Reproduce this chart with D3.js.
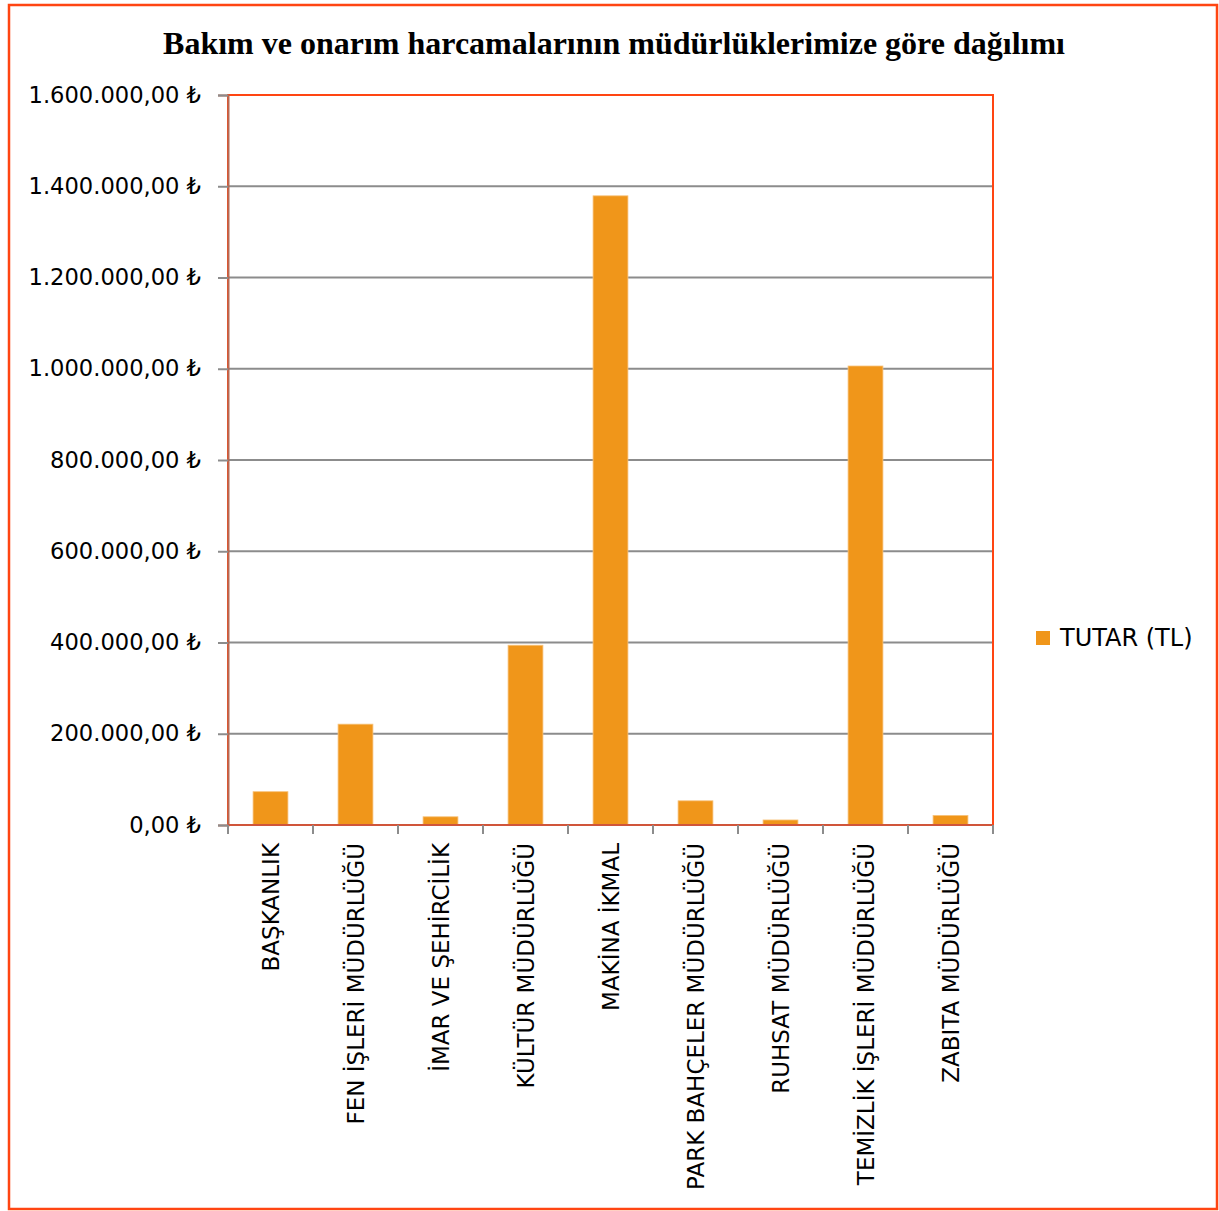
<!DOCTYPE html>
<html>
<head>
<meta charset="utf-8">
<script src="https://cdn.jsdelivr.net/npm/d3@7"></script>
<style>
html,body{margin:0;padding:0;background:#fff;}
svg{display:block;}
</style>
</head>
<body>
<svg id="chart" width="1219" height="1211"></svg>
<script>
const categories = ["BAŞKANLIK","FEN İŞLERİ MÜDÜRLÜĞÜ","İMAR VE ŞEHİRCİLİK","KÜLTÜR MÜDÜRLÜĞÜ","MAKİNA İKMAL","PARK BAHÇELER MÜDÜRLÜĞÜ","RUHSAT MÜDÜRLÜĞÜ","TEMİZLİK İŞLERİ MÜDÜRLÜĞÜ","ZABITA MÜDÜRLÜĞÜ"];
const values = [73000, 221000, 18000, 394000, 1379000, 53000, 11000, 1006000, 21000];
const yTicks = [0, 200000, 400000, 600000, 800000, 1000000, 1200000, 1400000, 1600000];
const seriesName = "TUTAR (TL)";
const titleText = "Bakım ve onarım harcamalarının müdürlüklerimize göre dağılımı";

const svg = d3.select("#chart");
const plot = {left: 228, top: 95, right: 993, bottom: 825};
const red = "#FF4512";
const grid = "#8c8c8c";
const barColor = "#F0961A";
const font = "'DejaVu Sans', 'Noto Sans', sans-serif";

svg.append("rect").attr("x", 9).attr("y", 5).attr("width", 1208).attr("height", 1204)
  .attr("fill", "#fff").attr("stroke", red).attr("stroke-width", 2.5);

svg.append("text").attr("x", 614).attr("y", 54).attr("text-anchor", "middle")
  .attr("font-family", "'Liberation Serif', 'Times New Roman', serif")
  .attr("font-weight", "bold").attr("font-size", 32).attr("fill", "#000")
  .text(titleText);

const x = d3.scaleBand().domain(categories).range([plot.left, plot.right]).paddingInner(0.59).paddingOuter(0.295);
const xb = d3.scaleBand().domain(categories).range([plot.left, plot.right]);
const y = d3.scaleLinear().domain([0, 1600000]).range([plot.bottom, plot.top]);

// gridlines
svg.append("g").selectAll("line").data(yTicks.filter(d => d > 0)).join("line")
  .attr("x1", plot.left).attr("x2", plot.right)
  .attr("y1", d => y(d)).attr("y2", d => y(d))
  .attr("stroke", grid).attr("stroke-width", 2);

// plot border
svg.append("rect").attr("x", plot.left).attr("y", plot.top)
  .attr("width", plot.right - plot.left).attr("height", plot.bottom - plot.top)
  .attr("fill", "none").attr("stroke", red).attr("stroke-width", 2);

// bars
svg.append("g").selectAll("rect").data(categories).join("rect")
  .attr("x", d => x(d)).attr("width", x.bandwidth())
  .attr("y", (d, i) => y(values[i])).attr("height", (d, i) => y(0) - y(values[i]))
  .attr("fill", barColor).attr("stroke", "#F7C27A").attr("stroke-width", 0.8);

// y axis
const fmt = v => {
  const s = d3.format(",.2f")(v);
  return s.replace(/,/g, "#").replace(/\./g, ",").replace(/#/g, ".") + " ₺";
};
const yAxis = d3.axisLeft(y).tickValues(yTicks).tickSize(10).tickPadding(17).tickFormat(fmt);
const gy = svg.append("g").attr("transform", `translate(${plot.left},0)`).call(yAxis);
gy.select(".domain").attr("stroke", "#b56a55").attr("stroke-width", 2);
gy.selectAll(".tick line").attr("stroke", grid).attr("stroke-width", 2);
gy.selectAll(".tick text").attr("font-family", font).attr("font-size", 22.6).attr("fill", "#000");

// x axis
const gx = svg.append("g").attr("transform", `translate(0,${plot.bottom})`);
gx.append("line").attr("x1", plot.left).attr("x2", plot.right).attr("y1", 0).attr("y2", 0)
  .attr("stroke", "#d0553a").attr("stroke-width", 2);
const bounds = categories.map(c => xb(c)).concat([plot.right]);
gx.selectAll("line.tk").data(bounds).join("line").attr("class", "tk")
  .attr("x1", d => d).attr("x2", d => d).attr("y1", 0).attr("y2", 9)
  .attr("stroke", grid).attr("stroke-width", 2);
gx.selectAll("text").data(categories).join("text")
  .attr("transform", d => `translate(${xb(d) + xb.bandwidth() / 2},18) rotate(-90)`)
  .attr("text-anchor", "end").attr("dy", "0.35em")
  .attr("font-family", font).attr("font-size", 23).attr("fill", "#000")
  .text(d => d);

// legend
const lg = svg.append("g").attr("transform", "translate(1036,631)");
lg.append("rect").attr("width", 14).attr("height", 14).attr("fill", barColor);
lg.append("text").attr("x", 24).attr("y", 7).attr("dy", "0.35em")
  .attr("font-family", font).attr("font-size", 24).attr("fill", "#000").text(seriesName);
</script>
</body>
</html>
